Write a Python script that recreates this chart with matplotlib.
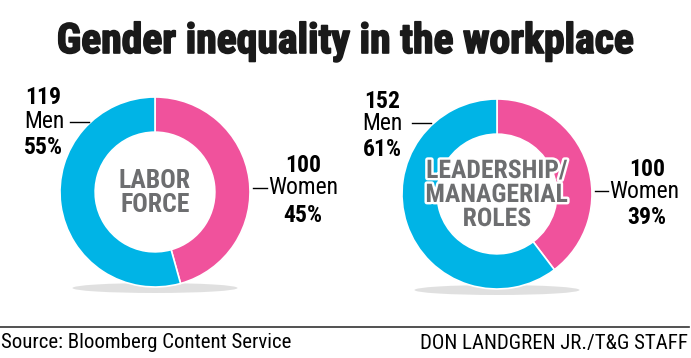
import matplotlib.pyplot as plt
import matplotlib.patheffects as pe
from matplotlib.patches import Ellipse

# data
groups = ["LABOR\nFORCE", "LEADERSHIP/\nMANAGERIAL\nROLES"]
women = [100, 100]
men = [119, 152]
women_pct = [45, 39]
men_pct = [55, 61]

blue = "#00b4e6"
pink = "#f0529c"
grey = "#6d6e70"
font = "Roboto Condensed"

W, H = 691, 358
fig = plt.figure(figsize=(W / 100, H / 100), dpi=100)
ax = fig.add_axes([0, 0, 1, 1])

def Y(y):
    # image coords (y down) -> axes coords
    return H - y

t = ax.text(W / 2, Y(53), "Gender inequality in the workplace", ha="center", va="baseline",
            fontsize=30, fontweight="bold", family=font, color="#1a1a1a")
t.set_path_effects([pe.withStroke(linewidth=1.2, foreground="#1a1a1a")])

centers = [(155, 192), (497, 194)]
R = 95
for i in range(2):
    cx, cy = centers[i]
    ax.add_patch(Ellipse((cx, Y(cy + 96)), 165, 10, fc="#d9d9d9", ec="none", alpha=0.8, zorder=0))
    ax.pie([women[i], men[i]], colors=[pink, blue], startangle=90, counterclock=False,
           center=(cx, Y(cy)), radius=R, frame=True,
           wedgeprops=dict(width=R * 0.37, edgecolor="white", linewidth=1.2))
    txt = ax.text(cx, Y(cy + 1), groups[i], ha="center", va="center", fontsize=18.5,
                  fontweight="bold", family=font, color=grey, linespacing=1.0, zorder=5)
    if i == 1:
        txt.set_path_effects([pe.withStroke(linewidth=3.5, foreground="white")])

ax.set_xlim(0, W)
ax.set_ylim(0, H)
ax.set_aspect("equal")
ax.axis("off")

# label positions in image pixels
men_xy = [(43, 98, 122, 148, 44, 70, 89), (382, 101, 123, 150, 382, 412, 431)]
women_xy = [(303, 165, 188, 215, 253, 267), (647, 169, 191, 217, 595, 608)]
for i in range(2):
    x, y0, y1, y2, xm, l0, l1 = men_xy[i]
    ax.text(x, Y(y0), str(men[i]), ha="center", va="center", fontsize=17, fontweight="bold", family=font)
    ax.text(xm, Y(y1), "Men", ha="center", va="center", fontsize=17, family=font)
    ax.plot([l0, l1], [Y(y1), Y(y1)], color="black", lw=1)
    ax.text(x, Y(y2), "%d%%" % men_pct[i], ha="center", va="center", fontsize=17, fontweight="bold", family=font)

    x, y0, y1, y2, l0, l1 = women_xy[i]
    ax.text(x, Y(y0), str(women[i]), ha="center", va="center", fontsize=17, fontweight="bold", family=font)
    ax.plot([l0, l1], [Y(y1), Y(y1)], color="black", lw=1)
    ax.text(l1 + 1, Y(y1), "Women", ha="left", va="center", fontsize=17, family=font)
    ax.text(x, Y(y2), "%d%%" % women_pct[i], ha="center", va="center", fontsize=17, fontweight="bold", family=font)

ax.plot([0, W - 2], [Y(327), Y(327)], color="#333333", lw=1.2)
ax.text(1, Y(343), "Source: Bloomberg Content Service", ha="left", va="center", fontsize=15, family=font)
ax.text(W - 3, Y(343), "DON LANDGREN JR./T&G STAFF", ha="right", va="center", fontsize=15, family=font)

fig.savefig("out.png", dpi=100)
